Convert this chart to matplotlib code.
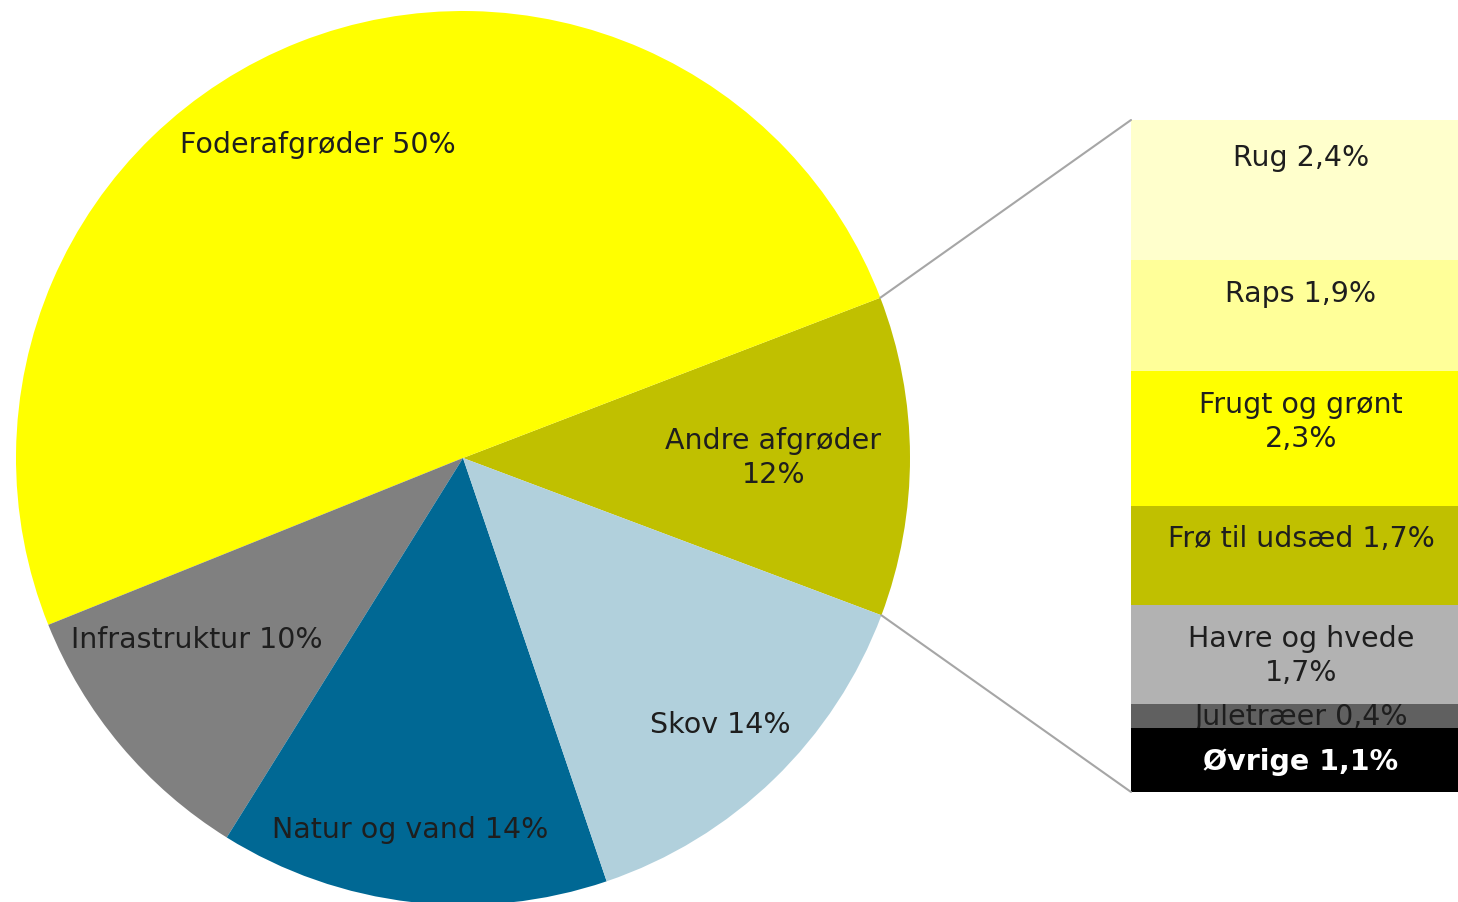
import numpy as np
import matplotlib.pyplot as plt
from matplotlib.patches import ConnectionPatch

# main pie (Andre afgrøder = sum of the breakdown, shown rounded as 12%)
pie_names = ['Andre afgrøder', 'Foderafgrøder', 'Infrastruktur', 'Natur og vand', 'Skov']
pie_values = [11.5, 50, 10, 14, 14]
pie_colors = ['#c0c000', '#ffff00', '#808080', '#006894', '#b1d0dc']

# breakdown of "Andre afgrøder"
bar_names = ['Rug', 'Raps', 'Frugt og grønt', 'Frø til udsæd', 'Havre og hvede', 'Juletræer', 'Øvrige']
bar_values = [2.4, 1.9, 2.3, 1.7, 1.7, 0.4, 1.1]
bar_colors = ['#ffffcc', '#ffff99', '#ffff00', '#c0c000', '#b2b2b2', '#606060', '#000000']


def pct(v):
    return f'{v:.1f}'.replace('.', ',') + '%'


W, H = 1458, 902
fig = plt.figure(figsize=(W / 100, H / 100), dpi=100)

# pie axes: centre (463, 458) px, radius 447 px
cx, cy, r = 463, 458, 447
ax = fig.add_axes([(cx - r) / W, (H - cy - r) / H, 2 * r / W, 2 * r / H])
start = -20.6
wedges, _ = ax.pie(pie_values, colors=pie_colors, startangle=start, counterclock=True,
                   radius=1, wedgeprops=dict(linewidth=0))
ax.set_xlim(-1, 1)
ax.set_ylim(-1, 1)
ax.set_aspect('equal')
ax.axis('off')

fs = 20.5
txtcol = '#1e1e1e'
pie_label_pos = {'Andre afgrøder': (0.694, 0.0), 'Foderafgrøder': (-0.324, 0.700),
                 'Infrastruktur': (-0.595, -0.407), 'Natur og vand': (-0.119, -0.832),
                 'Skov': (0.575, -0.597)}
for name, v in zip(pie_names, pie_values):
    sep = '\n' if name == 'Andre afgrøder' else ' '
    x, y = pie_label_pos[name]
    ax.text(x, y, name + sep + f'{v:.0f}%', ha='center', va='center', fontsize=fs,
            color=txtcol, linespacing=1.25)

# bar axes: x 1131-1458, y 120-792 px
bx0, bx1, by0, by1 = 1131, 1458, 120, 792
bax = fig.add_axes([bx0 / W, (H - by1) / H, (bx1 - bx0) / W, (by1 - by0) / H])
total = sum(bar_values)
tops = np.concatenate([[0], np.cumsum(bar_values)[:-1]])
bars = bax.bar(np.zeros(len(bar_values)), bar_values, bottom=tops, width=1, color=bar_colors,
               linewidth=0, align='edge')
bax.set_xlim(0, 1)
bax.set_ylim(total, 0)
bax.axis('off')

bar_text = {'Frugt og grønt': '\n', 'Havre og hvede': '\n'}
for name, v, t, c, patch in zip(bar_names, bar_values, tops, bar_colors, bars):
    col = 'white' if c == '#000000' else txtcol
    w = 'bold' if c == '#000000' else 'normal'
    off = {'Juletræer': 1, 'Rug': -24, 'Frø til udsæd': -19}.get(name, -20)
    tx = bax.annotate(name + bar_text.get(name, ' ') + pct(v), (0.52, t), xytext=(0, off),
                      textcoords='offset pixels', ha='center', va='top', fontsize=fs,
                      color=col, fontweight=w, linespacing=1.25, annotation_clip=False)
    tx.set_clip_path(patch)

# connector lines from the wedge edges to the bar corners
a1 = np.deg2rad(start + pie_values[0] / sum(pie_values) * 360)
a0 = np.deg2rad(start)
for ang, ycorner in [(a1, 0), (a0, total)]:
    con = ConnectionPatch(xyA=(np.cos(ang), np.sin(ang)), coordsA=ax.transData,
                          xyB=(0, ycorner), coordsB=bax.transData,
                          color='#a6a6a6', linewidth=1.5)
    fig.add_artist(con)

fig.savefig('out.png', dpi=100, facecolor='white')
